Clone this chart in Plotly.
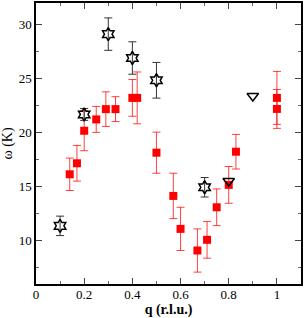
import plotly.graph_objects as go

# Red squares (with error bars)
sq_q = [0.14, 0.17, 0.20, 0.25, 0.29, 0.33, 0.40, 0.42, 0.50, 0.57, 0.60, 0.67, 0.71, 0.75, 0.80, 0.83, 1.00, 1.00]
sq_w = [16.15, 17.17, 20.18, 21.23, 22.18, 22.18, 23.22, 23.22, 18.15, 14.15, 11.1, 9.1, 10.09, 13.1, 15.17, 18.24, 23.22, 22.2]
sq_err = [1.5, 1.65, 1.85, 1.2, 1.6, 1.15, 1.7, 2.4, 1.9, 2.1, 2.0, 2.0, 1.7, 1.7, 1.7, 1.6, 2.45, 1.8]

# Open stars (with error bars)
st_q = [0.10, 0.20, 0.30, 0.40, 0.50, 0.70]
st_w = [11.38, 21.69, 29.12, 26.91, 24.85, 14.95]
st_err = [0.9, 0.55, 1.5, 1.5, 1.65, 0.9]

# Open down triangles
tr_q = [0.80, 0.90]
tr_w = [15.53, 23.4]

fig = go.Figure()
fig.add_trace(go.Scatter(
    x=sq_q, y=sq_w, mode="markers",
    marker=dict(symbol="square", size=8, color="#ff0000"),
    error_y=dict(type="data", array=sq_err, color="rgba(255,0,0,0.75)", thickness=1, width=4),
    showlegend=False))
fig.add_trace(go.Scatter(
    x=st_q, y=st_w, mode="markers",
    marker=dict(symbol="hexagram-open", size=10, color="black", line=dict(width=1.5, color="black")),
    error_y=dict(type="data", array=st_err, color="#333333", thickness=1, width=4),
    showlegend=False))
fig.add_trace(go.Scatter(
    x=tr_q, y=tr_w, mode="markers",
    marker=dict(symbol="triangle-down-open", size=10, color="black", line=dict(width=1.5, color="black")),
    showlegend=False))

fam = "Liberation Serif, Times New Roman, serif"
tickfont = dict(family=fam, size=13, color="black")
titlefont = dict(family=fam, size=14, color="black")
axis_common = dict(showline=True, linecolor="black", linewidth=1.5, mirror="ticks",
                   ticks="inside", ticklen=6, tickcolor="#444444", tickwidth=1,
                   showgrid=False, zeroline=False, tickfont=tickfont, automargin=False)
fig.update_xaxes(range=[0, 1.1], dtick=0.2, tick0=0, ticklabelstandoff=-2,
                 minor=dict(dtick=0.1, ticks="inside", ticklen=3, tickcolor="#666666", showgrid=False),
                 title=dict(text="<b>q (r.l.u.)</b>", font=titlefont, standoff=5), **axis_common)
fig.update_yaxes(range=[6, 32], dtick=5, tick0=0,
                 minor=dict(dtick=2.5, ticks="inside", ticklen=3, tickcolor="#666666", showgrid=False),
                 title=dict(text="ω (K)", font=titlefont, standoff=3), **axis_common)
fig.update_layout(width=304, height=318, margin=dict(l=36, r=3, t=3, b=34),
                  plot_bgcolor="white", paper_bgcolor="white", font=tickfont)
fig.write_html("out.html", config={"displayModeBar": False},
               post_script="document.body.style.margin='0';document.body.style.overflow='hidden';")
